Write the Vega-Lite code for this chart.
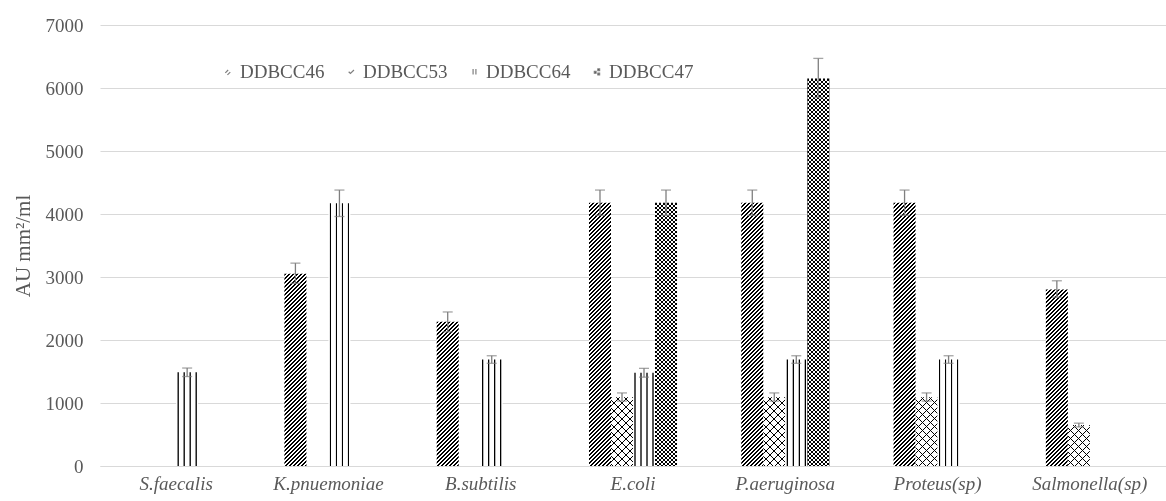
{
 "$schema": "https://vega.github.io/schema/vega-lite/v6.json",
 "width": 1066, "height": 441,
 "autosize": {"type": "none"},
 "padding": {"left": 100, "top": 25, "right": 0, "bottom": 35},
 "background": "white",
 "config": {
  "view": {"stroke": null},
  "font": "Liberation Serif",
  "axis": {"labelFont": "Liberation Serif", "labelFontSize": 19, "labelColor": "#595959", "titleFont": "Liberation Serif", "titleFontSize": 21, "titleFontWeight": "normal", "titleColor": "#595959", "ticks": false},
  "axisY": {"grid": true, "gridColor": "#d9d9d9", "gridWidth": 1, "domain": false, "labelPadding": 17, "titlePadding": 12, "format": "d"},
  "axisX": {"grid": false, "domainColor": "#d9d9d9", "labelFontStyle": "italic", "labelPadding": 8, "labelAngle": 0}
 },
 "params": [
  {"name": "D", "value": [
{"offset":0,"color":"#000"},{"offset":0.005,"color":"#000"},{"offset":0.005,"color":"#fff"},{"offset":0.01,"color":"#fff"},
{"offset":0.01,"color":"#000"},{"offset":0.015,"color":"#000"},{"offset":0.015,"color":"#fff"},{"offset":0.02,"color":"#fff"},
{"offset":0.02,"color":"#000"},{"offset":0.025,"color":"#000"},{"offset":0.025,"color":"#fff"},{"offset":0.03,"color":"#fff"},
{"offset":0.03,"color":"#000"},{"offset":0.035,"color":"#000"},{"offset":0.035,"color":"#fff"},{"offset":0.04,"color":"#fff"},
{"offset":0.04,"color":"#000"},{"offset":0.045,"color":"#000"},{"offset":0.045,"color":"#fff"},{"offset":0.05,"color":"#fff"},
{"offset":0.05,"color":"#000"},{"offset":0.055,"color":"#000"},{"offset":0.055,"color":"#fff"},{"offset":0.06,"color":"#fff"},
{"offset":0.06,"color":"#000"},{"offset":0.065,"color":"#000"},{"offset":0.065,"color":"#fff"},{"offset":0.07,"color":"#fff"},
{"offset":0.07,"color":"#000"},{"offset":0.075,"color":"#000"},{"offset":0.075,"color":"#fff"},{"offset":0.08,"color":"#fff"},
{"offset":0.08,"color":"#000"},{"offset":0.085,"color":"#000"},{"offset":0.085,"color":"#fff"},{"offset":0.09,"color":"#fff"},
{"offset":0.09,"color":"#000"},{"offset":0.095,"color":"#000"},{"offset":0.095,"color":"#fff"},{"offset":0.10,"color":"#fff"},
{"offset":0.10,"color":"#000"},{"offset":0.105,"color":"#000"},{"offset":0.105,"color":"#fff"},{"offset":0.11,"color":"#fff"},
{"offset":0.11,"color":"#000"},{"offset":0.115,"color":"#000"},{"offset":0.115,"color":"#fff"},{"offset":0.12,"color":"#fff"},
{"offset":0.12,"color":"#000"},{"offset":0.125,"color":"#000"},{"offset":0.125,"color":"#fff"},{"offset":0.13,"color":"#fff"},
{"offset":0.13,"color":"#000"},{"offset":0.135,"color":"#000"},{"offset":0.135,"color":"#fff"},{"offset":0.14,"color":"#fff"},
{"offset":0.14,"color":"#000"},{"offset":0.145,"color":"#000"},{"offset":0.145,"color":"#fff"},{"offset":0.15,"color":"#fff"},
{"offset":0.15,"color":"#000"},{"offset":0.155,"color":"#000"},{"offset":0.155,"color":"#fff"},{"offset":0.16,"color":"#fff"},
{"offset":0.16,"color":"#000"},{"offset":0.165,"color":"#000"},{"offset":0.165,"color":"#fff"},{"offset":0.17,"color":"#fff"},
{"offset":0.17,"color":"#000"},{"offset":0.175,"color":"#000"},{"offset":0.175,"color":"#fff"},{"offset":0.18,"color":"#fff"},
{"offset":0.18,"color":"#000"},{"offset":0.185,"color":"#000"},{"offset":0.185,"color":"#fff"},{"offset":0.19,"color":"#fff"},
{"offset":0.19,"color":"#000"},{"offset":0.195,"color":"#000"},{"offset":0.195,"color":"#fff"},{"offset":0.20,"color":"#fff"},
{"offset":0.20,"color":"#000"},{"offset":0.205,"color":"#000"},{"offset":0.205,"color":"#fff"},{"offset":0.21,"color":"#fff"},
{"offset":0.21,"color":"#000"},{"offset":0.215,"color":"#000"},{"offset":0.215,"color":"#fff"},{"offset":0.22,"color":"#fff"},
{"offset":0.22,"color":"#000"},{"offset":0.225,"color":"#000"},{"offset":0.225,"color":"#fff"},{"offset":0.23,"color":"#fff"},
{"offset":0.23,"color":"#000"},{"offset":0.235,"color":"#000"},{"offset":0.235,"color":"#fff"},{"offset":0.24,"color":"#fff"},
{"offset":0.24,"color":"#000"},{"offset":0.245,"color":"#000"},{"offset":0.245,"color":"#fff"},{"offset":0.25,"color":"#fff"},
{"offset":0.25,"color":"#000"},{"offset":0.255,"color":"#000"},{"offset":0.255,"color":"#fff"},{"offset":0.26,"color":"#fff"},
{"offset":0.26,"color":"#000"},{"offset":0.265,"color":"#000"},{"offset":0.265,"color":"#fff"},{"offset":0.27,"color":"#fff"},
{"offset":0.27,"color":"#000"},{"offset":0.275,"color":"#000"},{"offset":0.275,"color":"#fff"},{"offset":0.28,"color":"#fff"},
{"offset":0.28,"color":"#000"},{"offset":0.285,"color":"#000"},{"offset":0.285,"color":"#fff"},{"offset":0.29,"color":"#fff"},
{"offset":0.29,"color":"#000"},{"offset":0.295,"color":"#000"},{"offset":0.295,"color":"#fff"},{"offset":0.30,"color":"#fff"},
{"offset":0.30,"color":"#000"},{"offset":0.305,"color":"#000"},{"offset":0.305,"color":"#fff"},{"offset":0.31,"color":"#fff"},
{"offset":0.31,"color":"#000"},{"offset":0.315,"color":"#000"},{"offset":0.315,"color":"#fff"},{"offset":0.32,"color":"#fff"},
{"offset":0.32,"color":"#000"},{"offset":0.325,"color":"#000"},{"offset":0.325,"color":"#fff"},{"offset":0.33,"color":"#fff"},
{"offset":0.33,"color":"#000"},{"offset":0.335,"color":"#000"},{"offset":0.335,"color":"#fff"},{"offset":0.34,"color":"#fff"},
{"offset":0.34,"color":"#000"},{"offset":0.345,"color":"#000"},{"offset":0.345,"color":"#fff"},{"offset":0.35,"color":"#fff"},
{"offset":0.35,"color":"#000"},{"offset":0.355,"color":"#000"},{"offset":0.355,"color":"#fff"},{"offset":0.36,"color":"#fff"},
{"offset":0.36,"color":"#000"},{"offset":0.365,"color":"#000"},{"offset":0.365,"color":"#fff"},{"offset":0.37,"color":"#fff"},
{"offset":0.37,"color":"#000"},{"offset":0.375,"color":"#000"},{"offset":0.375,"color":"#fff"},{"offset":0.38,"color":"#fff"},
{"offset":0.38,"color":"#000"},{"offset":0.385,"color":"#000"},{"offset":0.385,"color":"#fff"},{"offset":0.39,"color":"#fff"},
{"offset":0.39,"color":"#000"},{"offset":0.395,"color":"#000"},{"offset":0.395,"color":"#fff"},{"offset":0.40,"color":"#fff"},
{"offset":0.40,"color":"#000"},{"offset":0.405,"color":"#000"},{"offset":0.405,"color":"#fff"},{"offset":0.41,"color":"#fff"},
{"offset":0.41,"color":"#000"},{"offset":0.415,"color":"#000"},{"offset":0.415,"color":"#fff"},{"offset":0.42,"color":"#fff"},
{"offset":0.42,"color":"#000"},{"offset":0.425,"color":"#000"},{"offset":0.425,"color":"#fff"},{"offset":0.43,"color":"#fff"},
{"offset":0.43,"color":"#000"},{"offset":0.435,"color":"#000"},{"offset":0.435,"color":"#fff"},{"offset":0.44,"color":"#fff"},
{"offset":0.44,"color":"#000"},{"offset":0.445,"color":"#000"},{"offset":0.445,"color":"#fff"},{"offset":0.45,"color":"#fff"},
{"offset":0.45,"color":"#000"},{"offset":0.455,"color":"#000"},{"offset":0.455,"color":"#fff"},{"offset":0.46,"color":"#fff"},
{"offset":0.46,"color":"#000"},{"offset":0.465,"color":"#000"},{"offset":0.465,"color":"#fff"},{"offset":0.47,"color":"#fff"},
{"offset":0.47,"color":"#000"},{"offset":0.475,"color":"#000"},{"offset":0.475,"color":"#fff"},{"offset":0.48,"color":"#fff"},
{"offset":0.48,"color":"#000"},{"offset":0.485,"color":"#000"},{"offset":0.485,"color":"#fff"},{"offset":0.49,"color":"#fff"},
{"offset":0.49,"color":"#000"},{"offset":0.495,"color":"#000"},{"offset":0.495,"color":"#fff"},{"offset":0.50,"color":"#fff"},
{"offset":0.50,"color":"#000"},{"offset":0.505,"color":"#000"},{"offset":0.505,"color":"#fff"},{"offset":0.51,"color":"#fff"},
{"offset":0.51,"color":"#000"},{"offset":0.515,"color":"#000"},{"offset":0.515,"color":"#fff"},{"offset":0.52,"color":"#fff"},
{"offset":0.52,"color":"#000"},{"offset":0.525,"color":"#000"},{"offset":0.525,"color":"#fff"},{"offset":0.53,"color":"#fff"},
{"offset":0.53,"color":"#000"},{"offset":0.535,"color":"#000"},{"offset":0.535,"color":"#fff"},{"offset":0.54,"color":"#fff"},
{"offset":0.54,"color":"#000"},{"offset":0.545,"color":"#000"},{"offset":0.545,"color":"#fff"},{"offset":0.55,"color":"#fff"},
{"offset":0.55,"color":"#000"},{"offset":0.555,"color":"#000"},{"offset":0.555,"color":"#fff"},{"offset":0.56,"color":"#fff"},
{"offset":0.56,"color":"#000"},{"offset":0.565,"color":"#000"},{"offset":0.565,"color":"#fff"},{"offset":0.57,"color":"#fff"},
{"offset":0.57,"color":"#000"},{"offset":0.575,"color":"#000"},{"offset":0.575,"color":"#fff"},{"offset":0.58,"color":"#fff"},
{"offset":0.58,"color":"#000"},{"offset":0.585,"color":"#000"},{"offset":0.585,"color":"#fff"},{"offset":0.59,"color":"#fff"},
{"offset":0.59,"color":"#000"},{"offset":0.595,"color":"#000"},{"offset":0.595,"color":"#fff"},{"offset":0.60,"color":"#fff"},
{"offset":0.60,"color":"#000"},{"offset":0.605,"color":"#000"},{"offset":0.605,"color":"#fff"},{"offset":0.61,"color":"#fff"},
{"offset":0.61,"color":"#000"},{"offset":0.615,"color":"#000"},{"offset":0.615,"color":"#fff"},{"offset":0.62,"color":"#fff"},
{"offset":0.62,"color":"#000"},{"offset":0.625,"color":"#000"},{"offset":0.625,"color":"#fff"},{"offset":0.63,"color":"#fff"},
{"offset":0.63,"color":"#000"},{"offset":0.635,"color":"#000"},{"offset":0.635,"color":"#fff"},{"offset":0.64,"color":"#fff"},
{"offset":0.64,"color":"#000"},{"offset":0.645,"color":"#000"},{"offset":0.645,"color":"#fff"},{"offset":0.65,"color":"#fff"},
{"offset":0.65,"color":"#000"},{"offset":0.655,"color":"#000"},{"offset":0.655,"color":"#fff"},{"offset":0.66,"color":"#fff"},
{"offset":0.66,"color":"#000"},{"offset":0.665,"color":"#000"},{"offset":0.665,"color":"#fff"},{"offset":0.67,"color":"#fff"},
{"offset":0.67,"color":"#000"},{"offset":0.675,"color":"#000"},{"offset":0.675,"color":"#fff"},{"offset":0.68,"color":"#fff"},
{"offset":0.68,"color":"#000"},{"offset":0.685,"color":"#000"},{"offset":0.685,"color":"#fff"},{"offset":0.69,"color":"#fff"},
{"offset":0.69,"color":"#000"},{"offset":0.695,"color":"#000"},{"offset":0.695,"color":"#fff"},{"offset":0.70,"color":"#fff"},
{"offset":0.70,"color":"#000"},{"offset":0.705,"color":"#000"},{"offset":0.705,"color":"#fff"},{"offset":0.71,"color":"#fff"},
{"offset":0.71,"color":"#000"},{"offset":0.715,"color":"#000"},{"offset":0.715,"color":"#fff"},{"offset":0.72,"color":"#fff"},
{"offset":0.72,"color":"#000"},{"offset":0.725,"color":"#000"},{"offset":0.725,"color":"#fff"},{"offset":0.73,"color":"#fff"},
{"offset":0.73,"color":"#000"},{"offset":0.735,"color":"#000"},{"offset":0.735,"color":"#fff"},{"offset":0.74,"color":"#fff"},
{"offset":0.74,"color":"#000"},{"offset":0.745,"color":"#000"},{"offset":0.745,"color":"#fff"},{"offset":0.75,"color":"#fff"},
{"offset":0.75,"color":"#000"},{"offset":0.755,"color":"#000"},{"offset":0.755,"color":"#fff"},{"offset":0.76,"color":"#fff"},
{"offset":0.76,"color":"#000"},{"offset":0.765,"color":"#000"},{"offset":0.765,"color":"#fff"},{"offset":0.77,"color":"#fff"},
{"offset":0.77,"color":"#000"},{"offset":0.775,"color":"#000"},{"offset":0.775,"color":"#fff"},{"offset":0.78,"color":"#fff"},
{"offset":0.78,"color":"#000"},{"offset":0.785,"color":"#000"},{"offset":0.785,"color":"#fff"},{"offset":0.79,"color":"#fff"},
{"offset":0.79,"color":"#000"},{"offset":0.795,"color":"#000"},{"offset":0.795,"color":"#fff"},{"offset":0.80,"color":"#fff"},
{"offset":0.80,"color":"#000"},{"offset":0.805,"color":"#000"},{"offset":0.805,"color":"#fff"},{"offset":0.81,"color":"#fff"},
{"offset":0.81,"color":"#000"},{"offset":0.815,"color":"#000"},{"offset":0.815,"color":"#fff"},{"offset":0.82,"color":"#fff"},
{"offset":0.82,"color":"#000"},{"offset":0.825,"color":"#000"},{"offset":0.825,"color":"#fff"},{"offset":0.83,"color":"#fff"},
{"offset":0.83,"color":"#000"},{"offset":0.835,"color":"#000"},{"offset":0.835,"color":"#fff"},{"offset":0.84,"color":"#fff"},
{"offset":0.84,"color":"#000"},{"offset":0.845,"color":"#000"},{"offset":0.845,"color":"#fff"},{"offset":0.85,"color":"#fff"},
{"offset":0.85,"color":"#000"},{"offset":0.855,"color":"#000"},{"offset":0.855,"color":"#fff"},{"offset":0.86,"color":"#fff"},
{"offset":0.86,"color":"#000"},{"offset":0.865,"color":"#000"},{"offset":0.865,"color":"#fff"},{"offset":0.87,"color":"#fff"},
{"offset":0.87,"color":"#000"},{"offset":0.875,"color":"#000"},{"offset":0.875,"color":"#fff"},{"offset":0.88,"color":"#fff"},
{"offset":0.88,"color":"#000"},{"offset":0.885,"color":"#000"},{"offset":0.885,"color":"#fff"},{"offset":0.89,"color":"#fff"},
{"offset":0.89,"color":"#000"},{"offset":0.895,"color":"#000"},{"offset":0.895,"color":"#fff"},{"offset":0.90,"color":"#fff"},
{"offset":0.90,"color":"#000"},{"offset":0.905,"color":"#000"},{"offset":0.905,"color":"#fff"},{"offset":0.91,"color":"#fff"},
{"offset":0.91,"color":"#000"},{"offset":0.915,"color":"#000"},{"offset":0.915,"color":"#fff"},{"offset":0.92,"color":"#fff"},
{"offset":0.92,"color":"#000"},{"offset":0.925,"color":"#000"},{"offset":0.925,"color":"#fff"},{"offset":0.93,"color":"#fff"},
{"offset":0.93,"color":"#000"},{"offset":0.935,"color":"#000"},{"offset":0.935,"color":"#fff"},{"offset":0.94,"color":"#fff"},
{"offset":0.94,"color":"#000"},{"offset":0.945,"color":"#000"},{"offset":0.945,"color":"#fff"},{"offset":0.95,"color":"#fff"},
{"offset":0.95,"color":"#000"},{"offset":0.955,"color":"#000"},{"offset":0.955,"color":"#fff"},{"offset":0.96,"color":"#fff"},
{"offset":0.96,"color":"#000"},{"offset":0.965,"color":"#000"},{"offset":0.965,"color":"#fff"},{"offset":0.97,"color":"#fff"},
{"offset":0.97,"color":"#000"},{"offset":0.975,"color":"#000"},{"offset":0.975,"color":"#fff"},{"offset":0.98,"color":"#fff"},
{"offset":0.98,"color":"#000"},{"offset":0.985,"color":"#000"},{"offset":0.985,"color":"#fff"},{"offset":0.99,"color":"#fff"},
{"offset":0.99,"color":"#000"},{"offset":0.995,"color":"#000"},{"offset":0.995,"color":"#fff"},{"offset":1,"color":"#fff"}
  ]},
  {"name": "L", "value": [
{"offset":0,"color":"#000"},{"offset":0.00625,"color":"#000"},{"offset":0.00625,"color":"#fff"},{"offset":0.05,"color":"#fff"},
{"offset":0.05,"color":"#000"},{"offset":0.05625,"color":"#000"},{"offset":0.05625,"color":"#fff"},{"offset":0.1,"color":"#fff"},
{"offset":0.1,"color":"#000"},{"offset":0.10625,"color":"#000"},{"offset":0.10625,"color":"#fff"},{"offset":0.15,"color":"#fff"},
{"offset":0.15,"color":"#000"},{"offset":0.15625,"color":"#000"},{"offset":0.15625,"color":"#fff"},{"offset":0.2,"color":"#fff"},
{"offset":0.2,"color":"#000"},{"offset":0.20625,"color":"#000"},{"offset":0.20625,"color":"#fff"},{"offset":0.25,"color":"#fff"},
{"offset":0.25,"color":"#000"},{"offset":0.25625,"color":"#000"},{"offset":0.25625,"color":"#fff"},{"offset":0.3,"color":"#fff"},
{"offset":0.3,"color":"#000"},{"offset":0.30625,"color":"#000"},{"offset":0.30625,"color":"#fff"},{"offset":0.35,"color":"#fff"},
{"offset":0.35,"color":"#000"},{"offset":0.35625,"color":"#000"},{"offset":0.35625,"color":"#fff"},{"offset":0.4,"color":"#fff"},
{"offset":0.4,"color":"#000"},{"offset":0.40625,"color":"#000"},{"offset":0.40625,"color":"#fff"},{"offset":0.45,"color":"#fff"},
{"offset":0.45,"color":"#000"},{"offset":0.45625,"color":"#000"},{"offset":0.45625,"color":"#fff"},{"offset":0.5,"color":"#fff"},
{"offset":0.5,"color":"#000"},{"offset":0.50625,"color":"#000"},{"offset":0.50625,"color":"#fff"},{"offset":0.55,"color":"#fff"},
{"offset":0.55,"color":"#000"},{"offset":0.55625,"color":"#000"},{"offset":0.55625,"color":"#fff"},{"offset":0.6,"color":"#fff"},
{"offset":0.6,"color":"#000"},{"offset":0.60625,"color":"#000"},{"offset":0.60625,"color":"#fff"},{"offset":0.65,"color":"#fff"},
{"offset":0.65,"color":"#000"},{"offset":0.65625,"color":"#000"},{"offset":0.65625,"color":"#fff"},{"offset":0.7,"color":"#fff"},
{"offset":0.7,"color":"#000"},{"offset":0.70625,"color":"#000"},{"offset":0.70625,"color":"#fff"},{"offset":0.75,"color":"#fff"},
{"offset":0.75,"color":"#000"},{"offset":0.75625,"color":"#000"},{"offset":0.75625,"color":"#fff"},{"offset":0.8,"color":"#fff"},
{"offset":0.8,"color":"#000"},{"offset":0.80625,"color":"#000"},{"offset":0.80625,"color":"#fff"},{"offset":0.85,"color":"#fff"},
{"offset":0.85,"color":"#000"},{"offset":0.85625,"color":"#000"},{"offset":0.85625,"color":"#fff"},{"offset":0.9,"color":"#fff"},
{"offset":0.9,"color":"#000"},{"offset":0.90625,"color":"#000"},{"offset":0.90625,"color":"#fff"},{"offset":0.95,"color":"#fff"},
{"offset":0.95,"color":"#000"},{"offset":0.95625,"color":"#000"},{"offset":0.95625,"color":"#fff"},{"offset":1,"color":"#fff"}
  ]}
 ],
 "data": {"values": [
  {"c": "S.faecalis", "s": "DDBCC64", "v": 1490, "lo": 1420, "hi": 1555},
  {"c": "K.pnuemoniae", "s": "DDBCC46", "v": 3050, "lo": 2900, "hi": 3220},
  {"c": "K.pnuemoniae", "s": "DDBCC64", "v": 4170, "lo": 3960, "hi": 4380},
  {"c": "B.subtilis", "s": "DDBCC46", "v": 2290, "lo": 2130, "hi": 2445},
  {"c": "B.subtilis", "s": "DDBCC64", "v": 1690, "lo": 1630, "hi": 1750},
  {"c": "E.coli", "s": "DDBCC46", "v": 4180, "lo": 3980, "hi": 4380},
  {"c": "E.coli", "s": "DDBCC53", "v": 1090, "lo": 1030, "hi": 1160},
  {"c": "E.coli", "s": "DDBCC64", "v": 1480, "lo": 1410, "hi": 1550},
  {"c": "E.coli", "s": "DDBCC47", "v": 4180, "lo": 3980, "hi": 4380},
  {"c": "P.aeruginosa", "s": "DDBCC46", "v": 4180, "lo": 3980, "hi": 4380},
  {"c": "P.aeruginosa", "s": "DDBCC53", "v": 1090, "lo": 1030, "hi": 1160},
  {"c": "P.aeruginosa", "s": "DDBCC64", "v": 1690, "lo": 1630, "hi": 1750},
  {"c": "P.aeruginosa", "s": "DDBCC47", "v": 6150, "lo": 5850, "hi": 6470},
  {"c": "Proteus(sp)", "s": "DDBCC46", "v": 4180, "lo": 3980, "hi": 4380},
  {"c": "Proteus(sp)", "s": "DDBCC53", "v": 1090, "lo": 1030, "hi": 1160},
  {"c": "Proteus(sp)", "s": "DDBCC64", "v": 1690, "lo": 1630, "hi": 1750},
  {"c": "Salmonella(sp)", "s": "DDBCC46", "v": 2800, "lo": 2680, "hi": 2940},
  {"c": "Salmonella(sp)", "s": "DDBCC53", "v": 650, "lo": 620, "hi": 680}
 ]},
 "encoding": {
  "x": {"field": "c", "type": "nominal", "sort": null,
        "scale": {"domain": ["S.faecalis", "K.pnuemoniae", "B.subtilis", "E.coli", "P.aeruginosa", "Proteus(sp)", "Salmonella(sp)"], "paddingInner": 0.422, "paddingOuter": 0.211},
        "axis": {"title": null}},
  "xOffset": {"field": "s", "type": "nominal",
        "scale": {"domain": ["DDBCC46", "DDBCC53", "DDBCC64", "DDBCC47"], "paddingInner": 0, "paddingOuter": 0}}
 },
 "layer": [
  {
   "transform": [{"filter": "datum.s === 'DDBCC46'"}],
   "mark": {"type": "bar", "fill": {"expr": "{gradient:'linear',x1:0,y1:0,x2:8800/(484+pow(datum.v*0.063,2)),y2:400*datum.v*0.063/(484+pow(datum.v*0.063,2)),stops:D}"}},
   "encoding": {"y": {"field": "v", "type": "quantitative", "stack": null, "title": "AU mm²/ml", "scale": {"domain": [0, 7000], "nice": false}, "axis": {"values": [0, 1000, 2000, 3000, 4000, 5000, 6000, 7000]}}}
  },
  {
   "transform": [{"filter": "datum.s === 'DDBCC53'"}],
   "mark": {"type": "bar", "fill": {"expr": "{gradient:'linear',x1:0,y1:0,x2:3520/(484+pow(datum.v*0.063,2)),y2:160*datum.v*0.063/(484+pow(datum.v*0.063,2)),stops:L}"}},
   "encoding": {"y": {"field": "v", "type": "quantitative", "stack": null, "title": "AU mm²/ml", "scale": {"domain": [0, 7000], "nice": false}, "axis": {"values": [0, 1000, 2000, 3000, 4000, 5000, 6000, 7000]}}}
  },
  {
   "transform": [{"filter": "datum.s === 'DDBCC53'"}],
   "mark": {"type": "bar", "blend": "multiply", "fill": {"expr": "{gradient:'linear',x1:1,y1:0,x2:1-3520/(484+pow(datum.v*0.063,2)),y2:160*datum.v*0.063/(484+pow(datum.v*0.063,2)),stops:L}"}},
   "encoding": {"y": {"field": "v", "type": "quantitative", "stack": null, "title": "AU mm²/ml", "scale": {"domain": [0, 7000], "nice": false}, "axis": {"values": [0, 1000, 2000, 3000, 4000, 5000, 6000, 7000]}}}
  },
  {
   "transform": [{"filter": "datum.s === 'DDBCC64'"}],
   "mark": {"type": "bar", "fill": {"gradient": "linear", "x1": 0, "y1": 0, "x2": 1, "y2": 0, "stops": [
     {"offset": 0, "color": "#fff"}, {"offset": 0.0455, "color": "#fff"}, {"offset": 0.0795, "color": "#000"}, {"offset": 0.1023, "color": "#000"}, {"offset": 0.1364, "color": "#fff"},
     {"offset": 0.3182, "color": "#fff"}, {"offset": 0.3523, "color": "#000"}, {"offset": 0.375, "color": "#000"}, {"offset": 0.4091, "color": "#fff"},
     {"offset": 0.5909, "color": "#fff"}, {"offset": 0.625, "color": "#000"}, {"offset": 0.6477, "color": "#000"}, {"offset": 0.6818, "color": "#fff"},
     {"offset": 0.8636, "color": "#fff"}, {"offset": 0.8977, "color": "#000"}, {"offset": 0.9205, "color": "#000"}, {"offset": 0.9545, "color": "#fff"}, {"offset": 1, "color": "#fff"}]}},
   "encoding": {"y": {"field": "v", "type": "quantitative", "stack": null, "title": "AU mm²/ml", "scale": {"domain": [0, 7000], "nice": false}, "axis": {"values": [0, 1000, 2000, 3000, 4000, 5000, 6000, 7000]}}}
  },
  {
   "transform": [{"filter": "datum.s === 'DDBCC47'"}],
   "mark": {"type": "bar", "fill": {"gradient": "linear", "x1": 0, "y1": 0, "x2": 1, "y2": 0, "stops": [
     {"offset": 0, "color": "#000"}, {"offset": 0.0909, "color": "#000"}, {"offset": 0.0909, "color": "#fff"}, {"offset": 0.1818, "color": "#fff"},
     {"offset": 0.1818, "color": "#000"}, {"offset": 0.2727, "color": "#000"}, {"offset": 0.2727, "color": "#fff"}, {"offset": 0.3636, "color": "#fff"},
     {"offset": 0.3636, "color": "#000"}, {"offset": 0.4545, "color": "#000"}, {"offset": 0.4545, "color": "#fff"}, {"offset": 0.5455, "color": "#fff"},
     {"offset": 0.5455, "color": "#000"}, {"offset": 0.6364, "color": "#000"}, {"offset": 0.6364, "color": "#fff"}, {"offset": 0.7273, "color": "#fff"},
     {"offset": 0.7273, "color": "#000"}, {"offset": 0.8182, "color": "#000"}, {"offset": 0.8182, "color": "#fff"}, {"offset": 0.9091, "color": "#fff"},
     {"offset": 0.9091, "color": "#000"}, {"offset": 1, "color": "#000"}]}},
   "encoding": {"y": {"field": "v", "type": "quantitative", "stack": null, "title": "AU mm²/ml", "scale": {"domain": [0, 7000], "nice": false}, "axis": {"values": [0, 1000, 2000, 3000, 4000, 5000, 6000, 7000]}}}
  },
  {
   "transform": [{"filter": "datum.s === 'DDBCC47'"}],
   "mark": {"type": "bar", "blend": "difference", "fill": {"expr": "{gradient:'linear',x1:0.5,y1:0,x2:0.5,y2:400/(datum.v*0.063),stops:D}"}},
   "encoding": {"y": {"field": "v", "type": "quantitative", "stack": null, "title": "AU mm²/ml", "scale": {"domain": [0, 7000], "nice": false}, "axis": {"values": [0, 1000, 2000, 3000, 4000, 5000, 6000, 7000]}}}
  },
  {
   "mark": {"type": "rule", "strokeWidth": 1.3},
   "encoding": {
    "y": {"field": "lo", "type": "quantitative", "title": "AU mm²/ml", "scale": {"domain": [0, 7000], "nice": false}, "axis": {"values": [0, 1000, 2000, 3000, 4000, 5000, 6000, 7000]}},
    "y2": {"field": "hi"},
    "color": {"field": "s", "type": "nominal",
      "scale": {"domain": ["DDBCC46", "DDBCC53", "DDBCC64", "DDBCC47"], "range": ["#7f7f7f", "#7f7f7f", "#7f7f7f", "#7f7f7f"]},
      "legend": {"orient": "none", "legendX": 119, "legendY": 37, "direction": "horizontal", "title": null,
        "labelFont": "Liberation Serif", "labelFontSize": 19, "labelColor": "#595959", "symbolSize": 50, "labelOffset": 2, "columnPadding": 17,
        "encode": {"symbols": {"update": {
          "shape": {"signal": "datum.value === 'DDBCC46' ? 'M-0.9,0.3L-0.1,-0.5M-0.3,0.9L0.5,0.1' : datum.value === 'DDBCC53' ? 'M-0.8,0L-0.3,0.5L0.7,-0.5' : datum.value === 'DDBCC64' ? 'M-0.4,-0.8L-0.4,0.8M0.4,-0.8L0.4,0.8' : 'M-0.9,-0.1h0.5v0.5h-0.5zM0.1,-0.8h0.5v0.5h-0.5zM0.1,0.4h0.5v0.5h-0.5z'"},
          "fill": {"signal": "datum.value === 'DDBCC47' ? '#000' : 'transparent'"},
          "stroke": {"signal": "datum.value === 'DDBCC47' ? 'transparent' : '#000'"},
          "strokeWidth": {"value": 1.2},
          "opacity": {"value": 1}
        }}}
      }}
   }
  },
  {
   "mark": {"type": "tick", "color": "#7f7f7f", "size": 10, "thickness": 1.3},
   "encoding": {"y": {"field": "hi", "type": "quantitative", "title": "AU mm²/ml", "scale": {"domain": [0, 7000], "nice": false}, "axis": {"values": [0, 1000, 2000, 3000, 4000, 5000, 6000, 7000]}}}
  },
  {
   "mark": {"type": "tick", "color": "#7f7f7f", "size": 10, "thickness": 1.3},
   "encoding": {"y": {"field": "lo", "type": "quantitative", "title": "AU mm²/ml", "scale": {"domain": [0, 7000], "nice": false}, "axis": {"values": [0, 1000, 2000, 3000, 4000, 5000, 6000, 7000]}}}
  }
 ]
}
